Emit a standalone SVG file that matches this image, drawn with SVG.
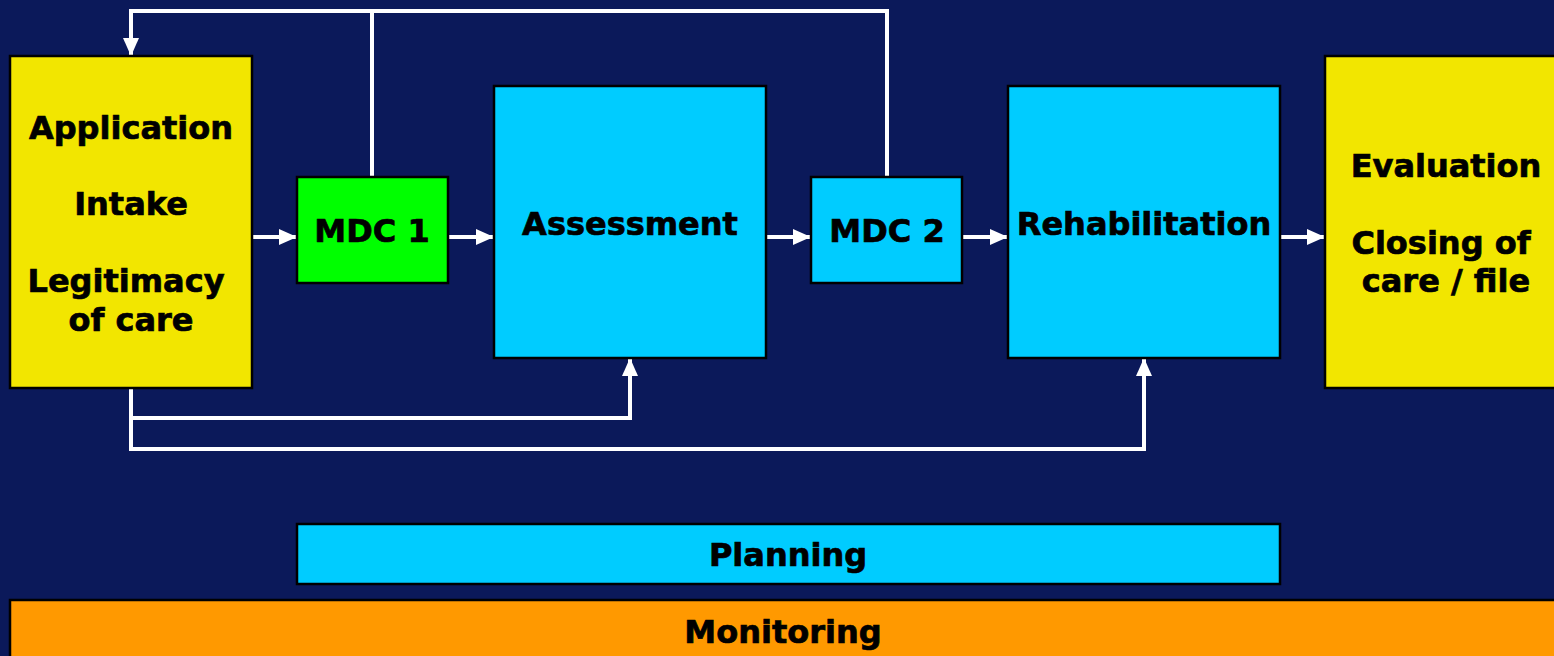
<svg xmlns="http://www.w3.org/2000/svg" width="1554" height="656" viewBox="0 0 1554 656">
<defs>
<style>
.box{stroke:#000;stroke-width:2.5}
.y{fill:#F2E600}.g{fill:#00FF00}.c{fill:#00CCFF}.o{fill:#FF9900}
text{font-family:"DejaVu Sans",Verdana,sans-serif;font-weight:bold;font-size:32px;fill:#000;stroke:#000;stroke-width:0.7;text-anchor:middle}
.ln{fill:none;stroke:#fff;stroke-width:4}
</style>
<marker id="ah" markerWidth="18" markerHeight="16" refX="17" refY="8" orient="auto" markerUnits="userSpaceOnUse">
<path d="M0,0 L18,8 L0,16 Z" fill="#fff"/>
</marker>
</defs>
<rect width="1554" height="656" fill="#0B195A"/>
<g id="connectors">
<polyline class="ln" points="372,177 372,11 131,11 131,55" marker-end="url(#ah)"/>
<polyline class="ln" points="887,177 887,11 372,11"/>
<polyline class="ln" points="131,388 131,418 630,418 630,359" marker-end="url(#ah)"/>
<polyline class="ln" points="131,418 131,449 1144,449 1144,359" marker-end="url(#ah)"/>
<line class="ln" x1="252" y1="237" x2="296" y2="237" marker-end="url(#ah)"/>
<line class="ln" x1="448" y1="237" x2="493" y2="237" marker-end="url(#ah)"/>
<line class="ln" x1="766" y1="237" x2="810" y2="237" marker-end="url(#ah)"/>
<line class="ln" x1="962" y1="237" x2="1007" y2="237" marker-end="url(#ah)"/>
<line class="ln" x1="1280" y1="237" x2="1324" y2="237" marker-end="url(#ah)"/>
</g>
<g id="application">
<rect class="box y" x="10" y="56" width="242" height="332"/>
<text x="131" y="139">Application</text>
<text x="131" y="215">Intake</text>
<text x="126" y="292">Legitimacy</text>
<text x="131" y="331">of care</text>
</g>
<g id="mdc1">
<rect class="box g" x="297" y="177" width="151" height="106"/>
<text x="372" y="242">MDC 1</text>
</g>
<g id="assessment">
<rect class="box c" x="494" y="86" width="272" height="272"/>
<text x="630" y="235">Assessment</text>
</g>
<g id="mdc2">
<rect class="box c" x="811" y="177" width="151" height="106"/>
<text x="887" y="242">MDC 2</text>
</g>
<g id="rehabilitation">
<rect class="box c" x="1008" y="86" width="272" height="272"/>
<text x="1144" y="235">Rehabilitation</text>
</g>
<g id="evaluation">
<rect class="box y" x="1325" y="56" width="240" height="332"/>
<text x="1446" y="177">Evaluation</text>
<text x="1441" y="254">Closing of</text>
<text x="1446" y="292">care / file</text>
</g>
<g id="planning">
<rect class="box c" x="297" y="524" width="983" height="60"/>
<text x="788" y="566">Planning</text>
</g>
<g id="monitoring">
<rect class="box o" x="10" y="600" width="1560" height="70"/>
<text x="783" y="643">Monitoring</text>
</g>
</svg>
